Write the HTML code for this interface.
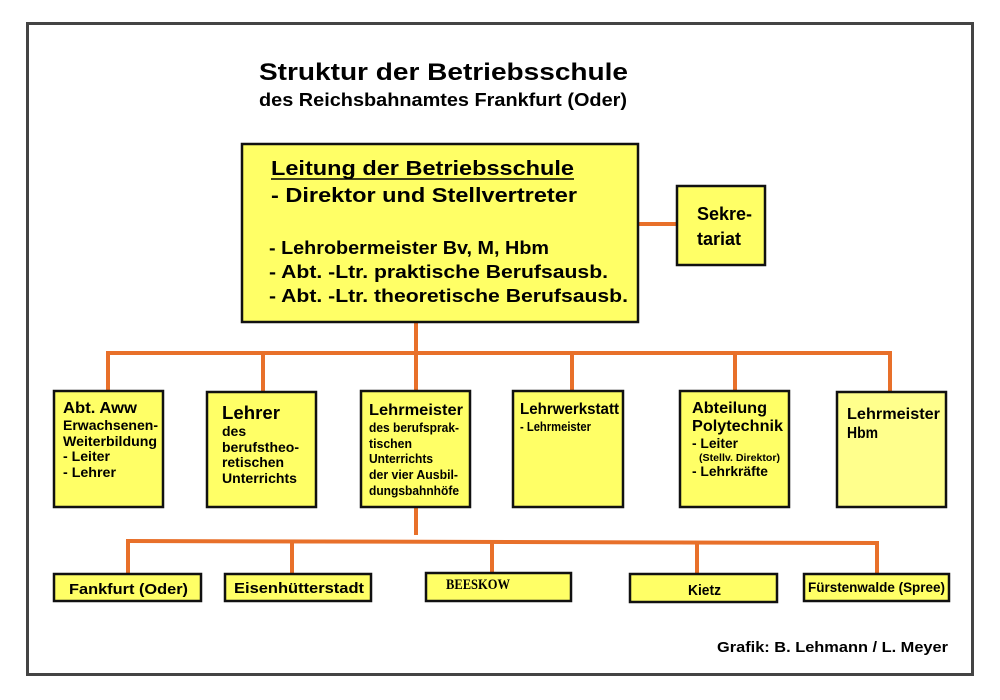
<!DOCTYPE html>
<html><head><meta charset="utf-8"><style>
html,body{margin:0;padding:0;background:#fff;}
svg{display:block;}
text{font-family:"Liberation Sans",Arial,sans-serif;font-weight:bold;fill:#000;}
</style></head><body>
<svg width="1000" height="700" viewBox="0 0 1000 700" xmlns="http://www.w3.org/2000/svg">
<rect x="0" y="0" width="1000" height="700" fill="#fff"/>
<rect x="27.5" y="23.5" width="945" height="651" fill="none" stroke="#444" stroke-width="3"/>

<text x="259" y="80" font-size="24" textLength="369" lengthAdjust="spacingAndGlyphs">Struktur der Betriebsschule</text>
<text x="259" y="106" font-size="18" textLength="368" lengthAdjust="spacingAndGlyphs">des Reichsbahnamtes Frankfurt (Oder)</text>

<g stroke="#e8702a" stroke-width="4" fill="none">
<line x1="639" y1="224" x2="676" y2="224"/>
<line x1="416" y1="323" x2="416" y2="353"/>
<line x1="106" y1="353" x2="892" y2="353"/>
<line x1="108" y1="353" x2="108" y2="390"/>
<line x1="263" y1="353" x2="263" y2="391"/>
<line x1="416" y1="353" x2="416" y2="390"/>
<line x1="572" y1="353" x2="572" y2="390"/>
<line x1="735" y1="353" x2="735" y2="390"/>
<line x1="890" y1="353" x2="890" y2="391"/>
<line x1="416" y1="507" x2="416" y2="535"/>
<line x1="126" y1="541" x2="879" y2="543"/>
<line x1="128" y1="541" x2="128" y2="573"/>
<line x1="292" y1="541" x2="292" y2="573"/>
<line x1="492" y1="542" x2="492" y2="572"/>
<line x1="697" y1="542" x2="697" y2="573"/>
<line x1="877" y1="543" x2="877" y2="573"/>
<line x1="416" y1="207" x2="416" y2="234" stroke-width="3"/>
</g>

<g fill="#ffff66" stroke="#111" stroke-width="2.5">
<rect x="242" y="144" width="396" height="178"/>
<rect x="677" y="186" width="88" height="79"/>
<rect x="54" y="391" width="109" height="116"/>
<rect x="207" y="392" width="109" height="115"/>
<rect x="361" y="391" width="109" height="116"/>
<rect x="513" y="391" width="110" height="116"/>
<rect x="680" y="391" width="109" height="116"/>
<rect x="837" y="392" width="109" height="115" fill="#ffff8c"/>
<rect x="54" y="574" width="147" height="27"/>
<rect x="225" y="574" width="146" height="27"/>
<rect x="426" y="573" width="145" height="28"/>
<rect x="630" y="574" width="147" height="28"/>
<rect x="804" y="574" width="145" height="27"/>
</g>

<text x="271" y="175" font-size="20" textLength="303" lengthAdjust="spacingAndGlyphs">Leitung der Betriebsschule</text>
<line x1="271" y1="179" x2="574" y2="179" stroke="#000" stroke-width="1.5"/>
<text x="271" y="202" font-size="20" textLength="306" lengthAdjust="spacingAndGlyphs">- Direktor und Stellvertreter</text>
<text x="269" y="254" font-size="18" textLength="280" lengthAdjust="spacingAndGlyphs">- Lehrobermeister Bv, M, Hbm</text>
<text x="269" y="278" font-size="18" textLength="339" lengthAdjust="spacingAndGlyphs">- Abt. -Ltr. praktische Berufsausb.</text>
<text x="269" y="302" font-size="18" textLength="359" lengthAdjust="spacingAndGlyphs">- Abt. -Ltr. theoretische Berufsausb.</text>

<text x="697" y="220" font-size="18">Sekre-</text>
<text x="697" y="245" font-size="18">tariat</text>

<g lengthAdjust="spacingAndGlyphs">
<text x="63" y="413" font-size="16" textLength="74" lengthAdjust="spacingAndGlyphs">Abt. Aww</text>
<text x="63" y="430" font-size="14" textLength="95" lengthAdjust="spacingAndGlyphs">Erwachsenen-</text>
<text x="63" y="446" font-size="14" textLength="94" lengthAdjust="spacingAndGlyphs">Weiterbildung</text>
<text x="63" y="461" font-size="14" textLength="47" lengthAdjust="spacingAndGlyphs">- Leiter</text>
<text x="63" y="477" font-size="14" textLength="53" lengthAdjust="spacingAndGlyphs">- Lehrer</text>

<text x="222" y="419" font-size="18" textLength="58" lengthAdjust="spacingAndGlyphs">Lehrer</text>
<text x="222" y="436" font-size="14">des</text>
<text x="222" y="452" font-size="14" textLength="77" lengthAdjust="spacingAndGlyphs">berufstheo-</text>
<text x="222" y="467" font-size="14" textLength="62" lengthAdjust="spacingAndGlyphs">retischen</text>
<text x="222" y="483" font-size="14" textLength="75" lengthAdjust="spacingAndGlyphs">Unterrichts</text>

<text x="369" y="415" font-size="16" textLength="94" lengthAdjust="spacingAndGlyphs">Lehrmeister</text>
<text x="369" y="432" font-size="12.5" textLength="90" lengthAdjust="spacingAndGlyphs">des berufsprak-</text>
<text x="369" y="448" font-size="12.5" textLength="43" lengthAdjust="spacingAndGlyphs">tischen</text>
<text x="369" y="463" font-size="12.5" textLength="64" lengthAdjust="spacingAndGlyphs">Unterrichts</text>
<text x="369" y="479" font-size="12.5" textLength="89" lengthAdjust="spacingAndGlyphs">der vier Ausbil-</text>
<text x="369" y="495" font-size="12.5" textLength="90" lengthAdjust="spacingAndGlyphs">dungsbahnhöfe</text>

<text x="520" y="414" font-size="16" textLength="99" lengthAdjust="spacingAndGlyphs">Lehrwerkstatt</text>
<text x="520" y="431" font-size="12.5" textLength="71" lengthAdjust="spacingAndGlyphs">- Lehrmeister</text>

<text x="692" y="413" font-size="16" textLength="75" lengthAdjust="spacingAndGlyphs">Abteilung</text>
<text x="692" y="431" font-size="16" textLength="91" lengthAdjust="spacingAndGlyphs">Polytechnik</text>
<text x="692" y="448" font-size="14" textLength="46" lengthAdjust="spacingAndGlyphs">- Leiter</text>
<text x="699" y="461" font-size="10" textLength="81" lengthAdjust="spacingAndGlyphs">(Stellv. Direktor)</text>
<text x="692" y="476" font-size="14" textLength="76" lengthAdjust="spacingAndGlyphs">- Lehrkräfte</text>

<text x="847" y="419" font-size="16" textLength="93" lengthAdjust="spacingAndGlyphs">Lehrmeister</text>
<text x="847" y="438" font-size="16" textLength="31" lengthAdjust="spacingAndGlyphs">Hbm</text>
</g>

<text x="69" y="594" font-size="15" textLength="119" lengthAdjust="spacingAndGlyphs">Fankfurt (Oder)</text>
<text x="234" y="593" font-size="15" textLength="130" lengthAdjust="spacingAndGlyphs">Eisenhütterstadt</text>
<text x="446" y="589" font-size="15" style="font-family:'Liberation Serif',serif;font-weight:bold" textLength="64" lengthAdjust="spacingAndGlyphs">BEESKOW</text>
<text x="688" y="595" font-size="15" textLength="33" lengthAdjust="spacingAndGlyphs">Kietz</text>
<text x="808" y="592" font-size="14" textLength="137" lengthAdjust="spacingAndGlyphs">Fürstenwalde (Spree)</text>

<text x="717" y="652" font-size="15" textLength="231" lengthAdjust="spacingAndGlyphs">Grafik: B. Lehmann / L. Meyer</text>
</svg>
</body></html>
